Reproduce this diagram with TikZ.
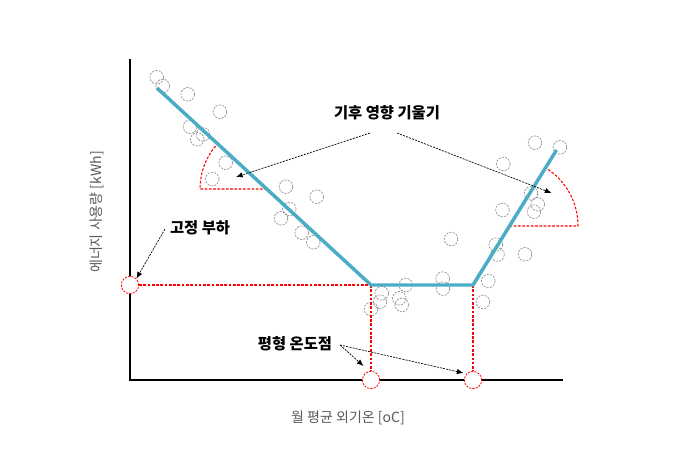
\documentclass[tikz,border=0pt]{standalone}
\usepackage{fontspec}
\setmainfont{Noto Sans CJK KR}
\usetikzlibrary{arrows.meta}
\definecolor{fitblue}{HTML}{4BACC6}
\definecolor{axisgray}{HTML}{595959}
\definecolor{refred}{HTML}{FF0000}
\begin{document}
\begin{tikzpicture}[x=0.75pt,y=0.75pt,
  datapt/.style={draw=gray!90,dash pattern=on 1.6pt off 0.9pt,line width=0.5pt},
  refpt/.style={circle,draw=refred,fill=white,dash pattern=on 1.6pt off 0.9pt,line width=0.6pt,minimum size=13pt,inner sep=0pt},
  reddash/.style={color=refred,dash pattern=on 2pt off 1.2pt,line width=0.8pt},
  note/.style={black,dash pattern=on 1.6pt off 0.8pt,line width=0.5pt,-{Latex[length=5pt,width=4pt]}},
  lab/.style={font=\bfseries\fontsize{11.5}{13}\selectfont,inner sep=0pt},
  axlab/.style={text=axisgray,font=\fontsize{10.5}{12}\selectfont,inner sep=0pt}]
\useasboundingbox (0,0) rectangle (700,-475);
% axes
\coordinate (o) at (130,-380);
\coordinate (ytop) at (130,-59);
\coordinate (xend) at (562.7,-380);
\draw [black,line width=0.8pt] (ytop) -- (o) -- (xend);
\node [axlab] (xlab) at (348,-418) {월 평균 외기온 [oC]};
\node [axlab,rotate=90] (ylab) at (97,-212) {에너지 사용량 [kWh]};
% data
\draw [datapt] (156.7,-77.3) circle (6.8);
\draw [datapt] (162.7,-86) circle (6.8);
\draw [datapt] (187.7,-94.3) circle (6.8);
\draw [datapt] (220,-111.7) circle (6.8);
\draw [datapt] (190,-126.7) circle (6.8);
\draw [datapt] (203,-134.5) circle (6.8);
\draw [datapt] (197.3,-139.3) circle (6.8);
\draw [datapt] (225.7,-162.7) circle (6.8);
\draw [datapt] (212.3,-179) circle (6.8);
\draw [datapt] (286,-186.7) circle (6.8);
\draw [datapt] (316.7,-196.7) circle (6.8);
\draw [datapt] (289.3,-209) circle (6.8);
\draw [datapt] (281,-218.3) circle (6.8);
\draw [datapt] (301.7,-232.7) circle (6.8);
\draw [datapt] (313.3,-242.3) circle (6.8);
\draw [datapt] (371,-309) circle (6.8);
\draw [datapt] (380,-301.7) circle (6.8);
\draw [datapt] (381.7,-293.3) circle (6.8);
\draw [datapt] (399.3,-298.3) circle (6.8);
\draw [datapt] (401.7,-305) circle (6.8);
\draw [datapt] (405.7,-285) circle (6.8);
\draw [datapt] (442.7,-278.6) circle (6.8);
\draw [datapt] (443,-288.6) circle (6.8);
\draw [datapt] (451,-239) circle (6.8);
\draw [datapt] (482.9,-302) circle (6.8);
\draw [datapt] (488.3,-281) circle (6.8);
\draw [datapt] (495.8,-244.6) circle (6.8);
\draw [datapt] (497.5,-254.5) circle (6.8);
\draw [datapt] (525,-254.3) circle (6.8);
\draw [datapt] (502.5,-210) circle (6.8);
\draw [datapt] (531,-193.3) circle (6.8);
\draw [datapt] (537.7,-204.3) circle (6.8);
\draw [datapt] (534,-211.7) circle (6.8);
\draw [datapt] (503.3,-164) circle (6.8);
\draw [datapt] (535,-142.7) circle (6.8);
\draw [datapt] (560,-147.3) circle (6.8);
% fitted line
\coordinate (p0) at (157,-88);
\coordinate (p1) at (371,-285);
\coordinate (p2) at (473,-285);
\coordinate (p3) at (556.5,-150);
% slope wedges
\coordinate (c1) at (267,-189);
\coordinate (c2) at (509.5,-226);
\draw [reddash] (c1) -- ++(-67,0) arc [start angle=180,end angle=137.4,radius=67];
\draw [reddash] (c2) -- ++(68.5,0) arc [start angle=0,end angle=58.4,radius=68.5];
% reference points
\node [refpt] (base) at (130,-285) {};
\node [refpt] (bal1) at (371,-380) {};
\node [refpt] (bal2) at (473,-380) {};
\draw [reddash] (base.east) -- (p1);
\draw [reddash] (p1) -- (bal1.north);
\draw [reddash] (p2) -- (bal2.north);
\draw [fitblue,line width=2.6pt,line join=miter] (p0) -- (p1) -- (p2) -- (p3);
% labels
\node [lab] (slope) at (387,-113) {기후 영향 기울기};
\coordinate (s1) at (370,-133);
\coordinate (s2) at (397,-133);
\coordinate (t1) at (236,-177);
\coordinate (t2) at (551.5,-193);
\draw [note] (s1) -- (t1);
\draw [note] (s2) -- (t2);
\node [lab] (load) at (200,-228) {고정 부하};
\coordinate (l1) at (165,-229);
\draw [note] (l1) -- (base.north east);
\node [lab] (bal) at (295,-344) {평형 온도점};
\coordinate (b1) at (340,-345);
\coordinate (bt1) at (363.5,-366);
\coordinate (bt2) at (463.5,-373);
\draw [note] (b1) -- (bt1);
\draw [note] (b1) -- (bt2);
\end{tikzpicture}
\end{document}
